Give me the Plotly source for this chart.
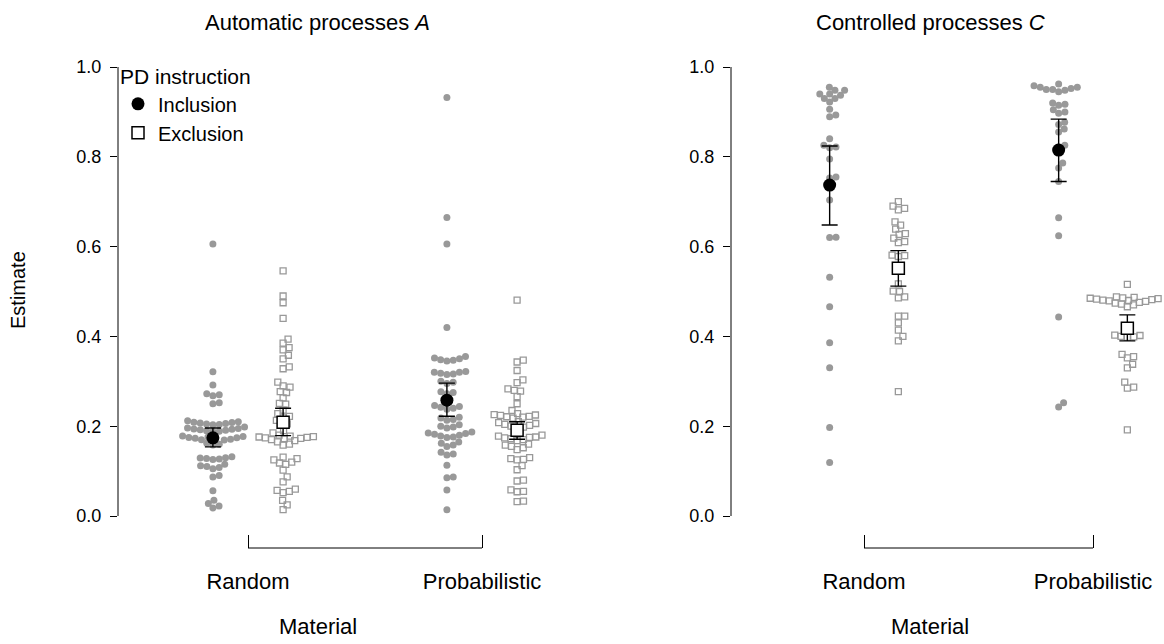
import math
import plotly.graph_objects as go

# ---------------- data ----------------
materials = ["Random", "Probabilistic"]
mat_pos = [1, 2]

# Automatic processes A
A_inc_random = [0.606, 0.321, 0.292, 0.272, 0.270, 0.268, 0.252, 0.250,
                0.212, 0.210, 0.209, 0.208, 0.207, 0.206, 0.205, 0.204, 0.203,
                0.198, 0.196, 0.195, 0.194, 0.193, 0.192, 0.191, 0.190, 0.189, 0.188,
                0.178, 0.177, 0.176, 0.175, 0.174, 0.173, 0.172, 0.171, 0.170, 0.169,
                0.162, 0.160, 0.158,
                0.132, 0.130, 0.129, 0.128, 0.127, 0.126,
                0.115, 0.112, 0.110, 0.108, 0.105,
                0.090, 0.087, 0.056, 0.035, 0.028, 0.022, 0.018]
A_exc_random = [0.546, 0.490, 0.475, 0.440, 0.394, 0.385, 0.375, 0.370, 0.358, 0.350,
                0.332, 0.328, 0.298, 0.290, 0.287, 0.277, 0.275, 0.263, 0.251, 0.249,
                0.236, 0.228, 0.222, 0.220, 0.213, 0.205, 0.203,
                0.190, 0.185, 0.180, 0.178, 0.177, 0.176, 0.175, 0.174, 0.173, 0.172, 0.170, 0.168,
                0.165, 0.160, 0.158,
                0.131, 0.128, 0.125, 0.120, 0.118, 0.115,
                0.102, 0.087, 0.076, 0.060, 0.057, 0.055, 0.052, 0.035, 0.025, 0.014]
A_inc_prob = [0.932, 0.665, 0.606, 0.420,
              0.355, 0.352, 0.350, 0.348, 0.347, 0.345,
              0.322, 0.320, 0.320, 0.318, 0.316, 0.315,
              0.300, 0.298, 0.295, 0.277, 0.275, 0.272,
              0.246, 0.244, 0.242, 0.240, 0.238,
              0.220, 0.218, 0.215, 0.213,
              0.203, 0.200, 0.198, 0.196,
              0.187, 0.185, 0.184, 0.182, 0.180, 0.178, 0.176, 0.175,
              0.165, 0.162, 0.158, 0.155,
              0.142, 0.138, 0.136, 0.113, 0.087, 0.085, 0.058, 0.014]
A_exc_prob = [0.481, 0.347, 0.343, 0.324, 0.303, 0.297, 0.283, 0.280, 0.278, 0.266,
              0.250, 0.235,
              0.228, 0.226, 0.225, 0.224, 0.222, 0.221, 0.220, 0.218,
              0.210, 0.208, 0.206, 0.204, 0.202, 0.200, 0.198, 0.196,
              0.180, 0.178, 0.176, 0.175, 0.174, 0.172, 0.170, 0.168,
              0.160, 0.158, 0.155, 0.152, 0.148,
              0.130, 0.128, 0.126, 0.125, 0.112, 0.103,
              0.080, 0.078, 0.058, 0.055, 0.054, 0.033, 0.032]

# Controlled processes C
C_inc_random = [0.955, 0.948, 0.948, 0.940, 0.940, 0.937, 0.930, 0.930, 0.922,
                0.906, 0.893, 0.889, 0.840, 0.826, 0.822, 0.820, 0.795,
                0.755, 0.753, 0.704, 0.621, 0.620, 0.532, 0.466, 0.386, 0.330,
                0.197, 0.119]
C_exc_random = [0.700, 0.690, 0.685, 0.682, 0.655, 0.648, 0.639, 0.629, 0.627, 0.619,
                0.611, 0.609, 0.581, 0.580, 0.578, 0.517, 0.501, 0.500, 0.488, 0.486,
                0.445, 0.445, 0.430, 0.414, 0.400, 0.390, 0.277]
C_inc_prob = [0.962, 0.958, 0.955, 0.955, 0.952, 0.950, 0.950, 0.948, 0.945,
              0.920, 0.917, 0.915, 0.905, 0.900, 0.897, 0.877, 0.872, 0.862, 0.855,
              0.826, 0.822, 0.786, 0.775, 0.745, 0.664, 0.624, 0.443, 0.252, 0.243]
C_exc_prob = [0.516, 0.488, 0.487, 0.486, 0.485, 0.484, 0.483, 0.482, 0.481, 0.480,
              0.479, 0.478, 0.476, 0.474, 0.472, 0.470, 0.466,
              0.403, 0.402, 0.400, 0.399, 0.398, 0.360, 0.355, 0.352,
              0.338, 0.330, 0.298, 0.287, 0.285, 0.192]

# Means and confidence intervals (Random, Probabilistic)
A_inc_mean = [0.174, 0.258]; A_inc_lo = [0.154, 0.222]; A_inc_hi = [0.196, 0.296]
A_exc_mean = [0.209, 0.191]; A_exc_lo = [0.179, 0.171]; A_exc_hi = [0.240, 0.210]
C_inc_mean = [0.737, 0.815]; C_inc_lo = [0.648, 0.745]; C_inc_hi = [0.824, 0.884]
C_exc_mean = [0.552, 0.418]; C_exc_lo = [0.512, 0.390]; C_exc_hi = [0.591, 0.448]

y_ticks = [0.0, 0.2, 0.4, 0.6, 0.8, 1.0]
panel_titles = ["Automatic processes <i>A</i>", "Controlled processes <i>C</i>"]

# ---------------- layout geometry ----------------
W, H = 1164, 644
TOP, BOTTOM = 67, 548
PX_PER_Y = 449.0
Y_MIN = -(BOTTOM - 516) / PX_PER_Y
FONT = "Liberation Sans, Arial, Helvetica, sans-serif"
GRAY = "#999999"
SHIFT = 0.15
FS = 22


def py(ypx):
    """pixel row -> paper y (paper spans the plot area)."""
    return (BOTTOM - ypx) / (BOTTOM - TOP)


panels = [
    dict(axis_px=118, c1=248, c2=482, right=564, mid=318),
    dict(axis_px=731, c1=864, c2=1093, right=1164, mid=930),
]
for p in panels:
    p["ppx"] = (p["c2"] - p["c1"]) / 1.0
    p["xmin"] = 1 - (p["c1"] - p["axis_px"]) / p["ppx"]
    p["xmax"] = 2 + (p["right"] - p["c2"]) / p["ppx"]


def swarm(vals, d):
    """Simple beeswarm: horizontal pixel offsets so markers don't overlap."""
    order = sorted(range(len(vals)), key=lambda i: vals[i])
    placed = []
    offs = [0.0] * len(vals)
    for i in order:
        y = vals[i] * PX_PER_Y
        near = [(px, py_) for px, py_ in placed if abs(py_ - y) < d]
        cands = [0.0]
        for px, py_ in near:
            dx = math.sqrt(max(d * d - (py_ - y) ** 2, 0))
            cands += [px + dx, px - dx]
        cands.sort(key=lambda c: (round(abs(c), 3), -c))
        chosen = 0.0
        for c in cands:
            if all((c - px) ** 2 + (y - py_) ** 2 >= d * d - 1e-6 for px, py_ in near):
                chosen = c
                break
        placed.append((chosen, y))
        offs[i] = chosen
    return offs


fig = go.Figure()

groups = [
    (0, [A_inc_random, A_inc_prob], [A_exc_random, A_exc_prob],
     (A_inc_mean, A_inc_lo, A_inc_hi), (A_exc_mean, A_exc_lo, A_exc_hi)),
    (1, [C_inc_random, C_inc_prob], [C_exc_random, C_exc_prob],
     (C_inc_mean, C_inc_lo, C_inc_hi), (C_exc_mean, C_exc_lo, C_exc_hi)),
]

for pi, incs, excs, inc_stats, exc_stats in groups:
    p = panels[pi]
    xa = "x" if pi == 0 else "x2"
    ya = "y" if pi == 0 else "y2"
    for k, vals in enumerate(incs):
        offs = swarm(vals, 6.4)
        xs = [mat_pos[k] - SHIFT + o / p["ppx"] for o in offs]
        fig.add_trace(go.Scatter(x=xs, y=vals, mode="markers", xaxis=xa, yaxis=ya,
                                 marker=dict(symbol="circle", size=7, color=GRAY,
                                             line=dict(width=0)),
                                 showlegend=False, hoverinfo="y", cliponaxis=False))
    for k, vals in enumerate(excs):
        offs = swarm(vals, 6.4)
        xs = [mat_pos[k] + SHIFT + o / p["ppx"] for o in offs]
        fig.add_trace(go.Scatter(x=xs, y=vals, mode="markers", xaxis=xa, yaxis=ya,
                                 marker=dict(symbol="square-open", size=6, color=GRAY,
                                             line=dict(width=1.3, color=GRAY)),
                                 showlegend=False, hoverinfo="y", cliponaxis=False))
    m, lo, hi = inc_stats
    fig.add_trace(go.Scatter(
        x=[v - SHIFT for v in mat_pos], y=m, mode="markers", xaxis=xa, yaxis=ya,
        name="Inclusion", showlegend=(pi == 0), cliponaxis=False,
        marker=dict(symbol="circle", size=13, color="black"),
        error_y=dict(type="data", symmetric=False,
                     array=[h - mm for h, mm in zip(hi, m)],
                     arrayminus=[mm - l for l, mm in zip(lo, m)],
                     color="black", thickness=1.4, width=8)))
    m, lo, hi = exc_stats
    fig.add_trace(go.Scatter(
        x=[v + SHIFT for v in mat_pos], y=m, mode="markers", xaxis=xa, yaxis=ya,
        name="Exclusion", showlegend=(pi == 0), cliponaxis=False,
        marker=dict(symbol="square", size=12, color="white",
                    line=dict(width=1.5, color="black")),
        error_y=dict(type="data", symmetric=False,
                     array=[h - mm for h, mm in zip(hi, m)],
                     arrayminus=[mm - l for l, mm in zip(lo, m)],
                     color="black", thickness=1.4, width=8)))

axis_common_y = dict(range=[Y_MIN, 1.0], tickvals=y_ticks, tickformat=".1f",
                     ticks="outside", ticklen=7, tickwidth=1, tickcolor="black",
                     showline=False, showgrid=False, zeroline=False,
                     ticklabelstandoff=5,
                     tickfont=dict(family=FONT, size=18, color="black"))
axis_common_x = dict(tickvals=mat_pos, ticktext=materials, ticks="inside",
                     ticklen=13, tickwidth=1, tickcolor="black", showline=False,
                     showgrid=False, zeroline=False, ticklabelstandoff=18,
                     tickfont=dict(family=FONT, size=FS, color="black"))

shapes = []
annotations = []
for pi, p in enumerate(panels):
    xs = "x" if pi == 0 else "x2"
    ys = "y" if pi == 0 else "y2"
    shapes.append(dict(type="line", xref=f"{xs} domain", yref=ys, x0=0, x1=0,
                       y0=0, y1=1, line=dict(color="black", width=1)))
    shapes.append(dict(type="line", xref=xs, yref=f"{ys} domain", x0=1, x1=2,
                       y0=0, y1=0, line=dict(color="black", width=1)))
    annotations.append(dict(text=panel_titles[pi], x=p["mid"] / W, y=py(22),
                            xref="paper", yref="paper", showarrow=False,
                            xanchor="center", yanchor="middle",
                            font=dict(family=FONT, size=FS, color="black")))
    annotations.append(dict(text="Material", x=p["mid"] / W, y=py(626),
                            xref="paper", yref="paper", showarrow=False,
                            xanchor="center", yanchor="middle",
                            font=dict(family=FONT, size=FS, color="black")))

annotations.append(dict(text="Estimate", x=18 / W, y=py(290), xref="paper",
                        yref="paper", showarrow=False, textangle=-90,
                        xanchor="center", yanchor="middle",
                        font=dict(family=FONT, size=FS - 2, color="black")))

fig.update_layout(
    width=W, height=H,
    margin=dict(l=0, r=0, t=TOP, b=H - BOTTOM, pad=0),
    paper_bgcolor="white", plot_bgcolor="white",
    xaxis=dict(domain=[panels[0]["axis_px"] / W, panels[0]["right"] / W],
               range=[panels[0]["xmin"], panels[0]["xmax"]], anchor="y", **axis_common_x),
    yaxis=dict(anchor="x", **axis_common_y),
    xaxis2=dict(domain=[panels[1]["axis_px"] / W, panels[1]["right"] / W],
                range=[panels[1]["xmin"], panels[1]["xmax"]], anchor="y2", **axis_common_x),
    yaxis2=dict(anchor="x2", **axis_common_y),
    shapes=shapes,
    annotations=annotations,
    showlegend=True,
    legend=dict(title=dict(text="PD instruction", font=dict(family=FONT, size=21, color="black")),
                font=dict(family=FONT, size=20, color="black"),
                x=118 / W, y=py(57), xanchor="left", yanchor="top",
                bgcolor="rgba(0,0,0,0)", borderwidth=0, itemsizing="trace",
                tracegroupgap=0),
    font=dict(family=FONT, size=FS, color="black"),
)

fig.write_html("out.html")
